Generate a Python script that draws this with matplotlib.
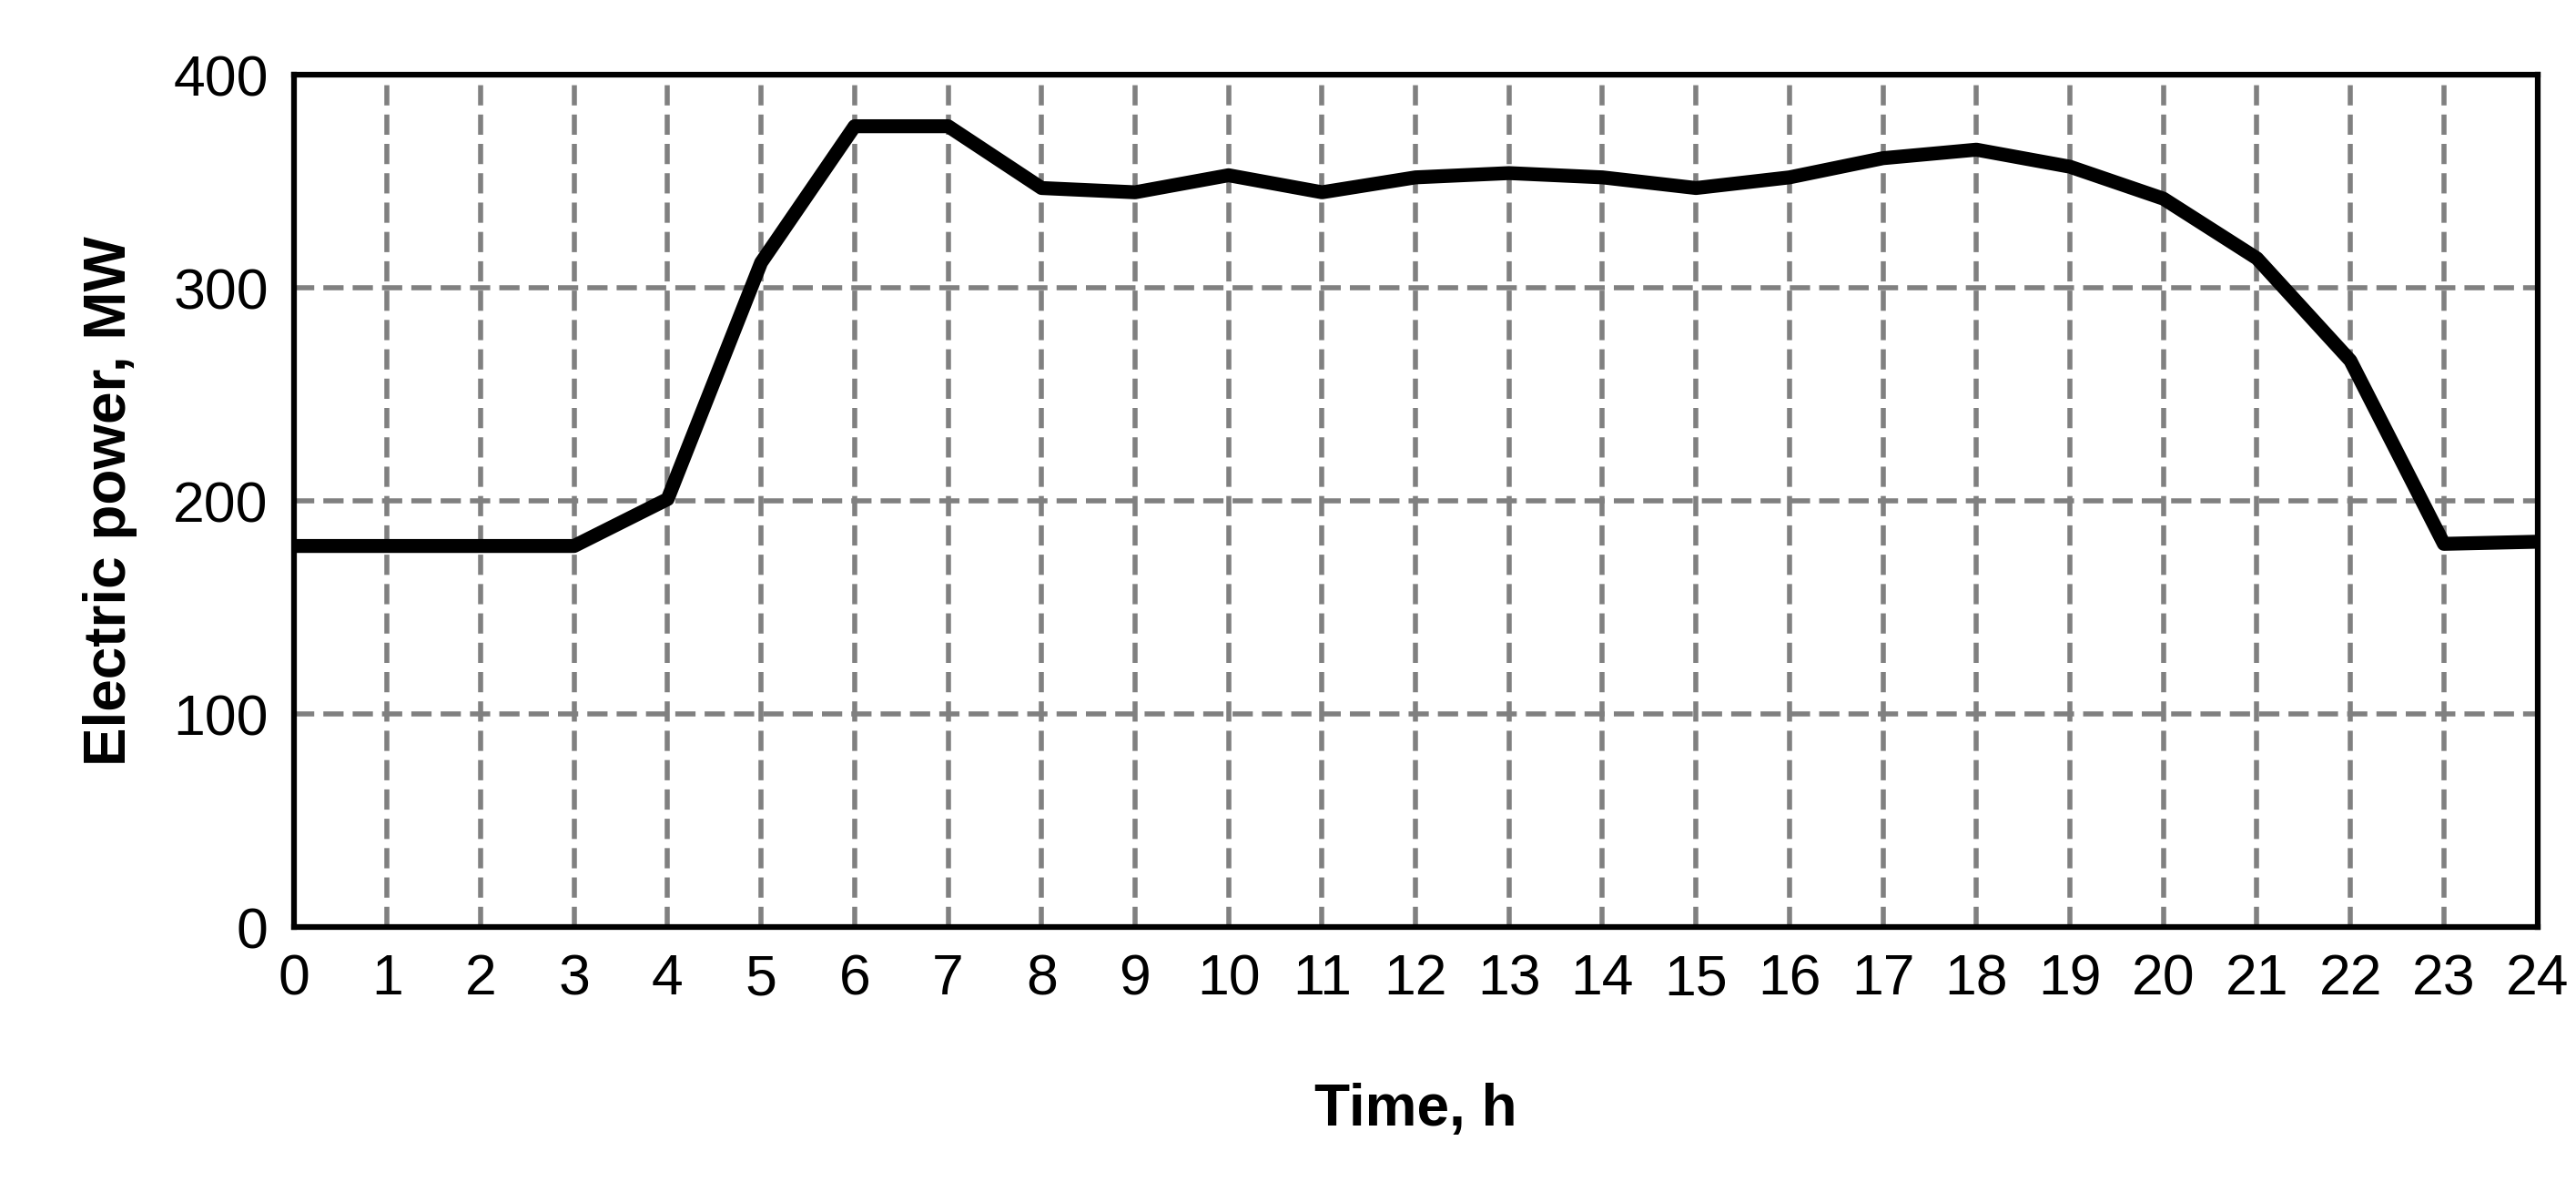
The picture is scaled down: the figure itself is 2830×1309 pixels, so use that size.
import matplotlib
matplotlib.use("Agg")
import matplotlib.pyplot as plt

hours = list(range(25))
power_mw = [179, 179, 179, 179, 201, 312, 376, 376, 347, 345, 353, 345, 352,
            354, 352, 347, 352, 361, 365, 357, 342, 314, 266, 180, 181]

plt.rcParams["font.family"] = ["Liberation Sans", "DejaVu Sans"]

fig = plt.figure(figsize=(28.3, 13.09), dpi=100)
ax = fig.add_axes([0.114, 0.222, 0.871, 0.715])

ax.plot(hours, power_mw, color="black", lw=11, solid_joinstyle="round", zorder=3)

ax.set_xlim(0, 24)
ax.set_ylim(0, 400)
ax.set_xticks(hours)
ax.set_yticks([0, 100, 200, 300, 400])
ax.grid(True, color="#808080", linestyle=(0, (4, 1.8)), lw=4)
ax.tick_params(labelsize=45, length=0, pad=20)
for s in ax.spines.values():
    s.set_linewidth(4.5)

ax.set_xlabel("Time, h", fontsize=46, fontweight="bold", labelpad=60)
ax.set_ylabel("Electric power, MW", fontsize=46, fontweight="bold", labelpad=28)

fig.savefig("out.png", dpi=100)
